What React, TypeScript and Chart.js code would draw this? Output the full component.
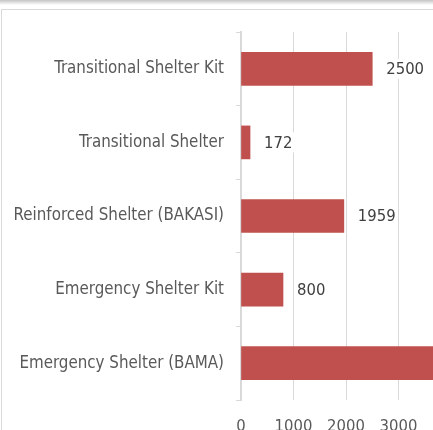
import React, { useEffect, useRef } from "react";
import { Chart, registerables } from "chart.js";

Chart.register(...registerables);

const categories = [
  "Transitional Shelter Kit",
  "Transitional Shelter",
  "Reinforced Shelter (BAKASI)",
  "Emergency Shelter Kit",
  "Emergency Shelter (BAMA)",
];
const values = [2500, 172, 1959, 800, 4000];
const xTickLabels = [0, 1000, 2000, 3000];
const xMax = 4000;

const FONT = "'DejaVu Sans Condensed', 'Liberation Sans', sans-serif";
const BAR = "#C0504D";
const GRID = "#D9D9D9";

const valueLabels = {
  id: "valueLabels",
  afterDatasetsDraw(chart: any) {
    const ctx = chart.ctx;
    const meta = chart.getDatasetMeta(0);
    ctx.save();
    ctx.font = `16.5px ${FONT}`;
    ctx.textBaseline = "middle";
    ctx.textAlign = "left";
    meta.data.forEach((el: any, i: number) => {
      const txt = String(chart.data.datasets[0].data[i]);
      const x = el.x + 14;
      const w = ctx.measureText(txt).width;
      ctx.fillStyle = "#FFFFFF";
      ctx.fillRect(x - 2, el.y - 10, w + 4, 20);
      ctx.fillStyle = "#404040";
      ctx.fillText(txt, x, el.y + 1);
    });
    ctx.restore();
  },
};

export default function App() {
  const ref = useRef<HTMLCanvasElement | null>(null);
  useEffect(() => {
    if (!ref.current) return;
    const chart = new Chart(ref.current, {
      type: "bar",
      data: {
        labels: categories,
        datasets: [
          {
            data: values,
            backgroundColor: BAR,
            borderWidth: 0,
            barThickness: 33,
          },
        ],
      },
      plugins: [valueLabels],
      options: {
        indexAxis: "y",
        responsive: false,
        animation: false,
        devicePixelRatio: 1,
        layout: { padding: { top: 32, right: 8, left: 0, bottom: 0 } },
        plugins: { legend: { display: false }, tooltip: { enabled: false } },
        scales: {
          x: {
            min: 0,
            max: xMax,
            ticks: {
              stepSize: 1000,
              padding: 17,
              color: "#595959",
              font: { family: FONT, size: 16.5 },
              maxRotation: 0,
              callback: (v: any) => (xTickLabels.includes(Number(v)) ? String(v) : ""),
            },
            grid: { color: GRID, lineWidth: 1, drawTicks: false },
            border: { display: false },
            afterFit: (s: any) => {
              s.height = 45;
            },
          },
          y: {
            ticks: {
              padding: 12,
              color: "#595959",
              font: { family: FONT, size: 16.8 },
            },
            grid: {
              drawOnChartArea: false,
              drawTicks: true,
              tickLength: 5,
              color: GRID,
              offset: true,
            },
            border: { display: true, color: GRID, width: 2 },
            afterFit: (s: any) => {
              s.width = 241;
            },
          },
        },
      },
    });
    return () => chart.destroy();
  }, []);

  return (
    <div
      style={{
        position: "fixed",
        left: 0,
        top: 0,
        width: 433,
        height: 430,
        overflow: "hidden",
        background: "#FFFFFF",
      }}
    >
      <div
        style={{
          position: "absolute",
          left: 0,
          top: 0,
          width: 433,
          height: 5,
          background: "linear-gradient(#C4C4C4, #FFFFFF)",
        }}
      />
      <div
        style={{
          position: "absolute",
          left: 1,
          top: 9,
          width: 600,
          height: 600,
          border: `1px solid ${GRID}`,
        }}
      />
      <canvas
        ref={ref}
        width={468}
        height={445}
        style={{ position: "absolute", left: 0, top: 0, width: 468, height: 445 }}
      />
    </div>
  );
}
